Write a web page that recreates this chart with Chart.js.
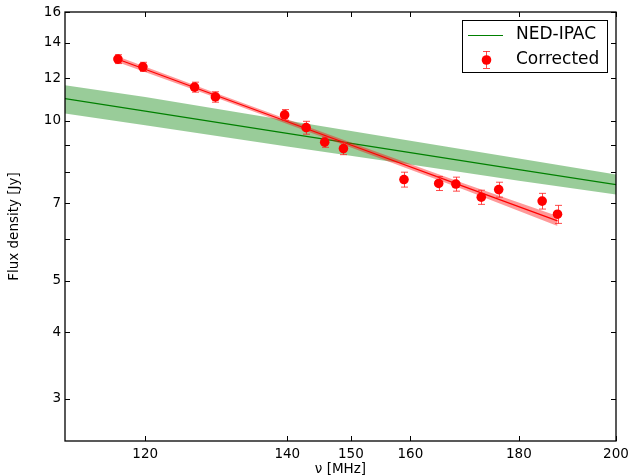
<!DOCTYPE html>
<html>
<head>
<meta charset="utf-8">
<script src="https://cdn.jsdelivr.net/npm/chart.js@4/dist/chart.umd.min.js"></script>
<style>
  html, body { margin: 0; padding: 0; background: #fff; }
  #wrap { width: 631px; height: 476px; }
</style>
</head>
<body>
<div id="wrap"><canvas id="c" width="631" height="476"></canvas></div>
<script>
// measured points (Corrected)
const freqs = [116.5, 119.7, 126.6, 129.5, 139.6, 142.9, 145.8, 148.8, 158.9, 165.0, 168.1, 172.8, 176.1, 184.6, 187.7];
const flux = [13.05, 12.62, 11.56, 11.08, 10.25, 9.70, 9.11, 8.86, 7.75, 7.62, 7.60, 7.18, 7.42, 7.06, 6.67];
const fluxErr = [0.25, 0.25, 0.25, 0.25, 0.24, 0.27, 0.20, 0.23, 0.25, 0.23, 0.23, 0.22, 0.24, 0.24, 0.26];

// fit to corrected points + its band
const fitFreqs = [116.5, 130, 150, 170, 187.7];
const fitFlux = [13.04, 11.10, 9.00, 7.49, 6.48];
const fitLow = [12.88, 10.99, 8.90, 7.39, 6.34];
const fitHigh = [13.20, 11.21, 9.10, 7.59, 6.62];

// NED-IPAC model + band
const nedFreqs = [110, 120, 140, 160, 180, 200];
const nedFlux = [11.0, 10.42, 9.46, 8.71, 8.09, 7.58];
const nedLow = [10.31, 9.80, 8.94, 8.27, 7.71, 7.26];
const nedHigh = [11.65, 11.08, 10.01, 9.17, 8.49, 7.92];

// axis ticks
const xTicks = [120, 140, 150, 160, 180, 200];
const yTicks = [3, 4, 5, 6, 7, 8, 9, 10, 12, 14, 16];
const yLabels = [3, 4, 5, 7, 10, 12, 14, 16];

const FONT = "'DejaVu Sans', 'Liberation Sans', sans-serif";
const pts = (xs, ys) => xs.map((x, i) => ({x: x, y: ys[i]}));

const errorBars = {
  id: 'errorBars',
  beforeDatasetDraw(chart, args) {
    if (args.index !== 6) return;
    const ctx = chart.ctx, xs = chart.scales.x, ys = chart.scales.y;
    ctx.save();
    ctx.strokeStyle = 'rgba(255,30,30,0.8)';
    ctx.lineWidth = 1;
    freqs.forEach((f, i) => {
      const px = Math.round(xs.getPixelForValue(f)) + 0.5;
      const top = ys.getPixelForValue(flux[i] + fluxErr[i]);
      const bot = ys.getPixelForValue(flux[i] - fluxErr[i]);
      ctx.beginPath();
      ctx.moveTo(px, top); ctx.lineTo(px, bot);
      ctx.moveTo(px - 3.5, top); ctx.lineTo(px + 3.5, top);
      ctx.moveTo(px - 3.5, bot); ctx.lineTo(px + 3.5, bot);
      ctx.stroke();
    });
    ctx.restore();
  }
};

const frame = {
  id: 'frame',
  afterDraw(chart) {
    const ctx = chart.ctx, a = chart.chartArea;
    const xs = chart.scales.x, ys = chart.scales.y;
    ctx.save();
    ctx.strokeStyle = '#000';
    ctx.lineWidth = 1;
    ctx.beginPath();
    xTicks.forEach(t => {
      const px = Math.round(xs.getPixelForValue(t)) + 0.5;
      ctx.moveTo(px, a.bottom); ctx.lineTo(px, a.bottom - 5);
      ctx.moveTo(px, a.top); ctx.lineTo(px, a.top + 5);
    });
    yTicks.forEach(t => {
      const py = Math.round(ys.getPixelForValue(t)) + 0.5;
      ctx.moveTo(a.left, py); ctx.lineTo(a.left + 5, py);
      ctx.moveTo(a.right, py); ctx.lineTo(a.right - 5, py);
    });
    ctx.stroke();
    ctx.lineWidth = 1.3;
    ctx.strokeRect(a.left, a.top, a.right - a.left, a.bottom - a.top);

    // legend
    const lx = 462, ly = 20, lw = 145, lh = 52;
    ctx.fillStyle = '#fff';
    ctx.fillRect(lx, ly, lw, lh);
    ctx.lineWidth = 1;
    ctx.strokeStyle = '#000';
    ctx.strokeRect(lx + 0.5, ly + 0.5, lw, lh);
    ctx.strokeStyle = 'rgb(0,128,0)';
    ctx.lineWidth = 1.2;
    ctx.beginPath();
    ctx.moveTo(468, 35.5); ctx.lineTo(503, 35.5);
    ctx.stroke();
    ctx.lineWidth = 1;
    ctx.strokeStyle = 'rgba(255,30,30,0.8)';
    ctx.beginPath();
    ctx.moveTo(486.5, 51); ctx.lineTo(486.5, 68);
    ctx.moveTo(483, 51.5); ctx.lineTo(490, 51.5);
    ctx.moveTo(483, 68.5); ctx.lineTo(490, 68.5);
    ctx.stroke();
    ctx.fillStyle = 'red';
    ctx.beginPath();
    ctx.arc(486.5, 60, 4.8, 0, Math.PI * 2);
    ctx.fill();
    ctx.fillStyle = '#000';
    ctx.font = '17px ' + FONT;
    ctx.textBaseline = 'middle';
    ctx.textAlign = 'left';
    ctx.fillText('NED-IPAC', 516, 35);
    ctx.fillText('Corrected', 516, 60);
    ctx.restore();
  }
};

new Chart(document.getElementById('c'), {
  type: 'scatter',
  data: {
    datasets: [
      { data: pts(nedFreqs, nedLow), showLine: true, borderWidth: 0, pointRadius: 0, fill: false, order: 6 },
      { data: pts(nedFreqs, nedHigh), showLine: true, borderWidth: 0, pointRadius: 0, fill: '-1',
        backgroundColor: 'rgba(0,128,0,0.4)', order: 5 },
      { data: pts(nedFreqs, nedFlux), showLine: true, borderColor: 'rgb(0,128,0)', borderWidth: 1.2, pointRadius: 0, order: 4 },
      { data: pts(fitFreqs, fitLow), showLine: true, borderWidth: 0, pointRadius: 0, fill: false, order: 3 },
      { data: pts(fitFreqs, fitHigh), showLine: true, borderWidth: 0, pointRadius: 0, fill: '-1',
        backgroundColor: 'rgba(255,0,0,0.4)', order: 2 },
      { data: pts(fitFreqs, fitFlux), showLine: true, borderColor: 'red', borderWidth: 1.2, pointRadius: 0, order: 1 },
      { data: pts(freqs, flux), pointRadius: 4.8, pointBackgroundColor: 'red', pointBorderWidth: 0, order: 0 }
    ]
  },
  options: {
    responsive: false,
    animation: false,
    events: [],
    layout: { padding: { left: 6, top: 12, right: 15, bottom: 0 } },
    plugins: { legend: { display: false }, tooltip: { enabled: false } },
    scales: {
      x: {
        type: 'logarithmic', min: 110, max: 200,
        afterBuildTicks: s => { s.ticks = xTicks.map(v => ({value: v})); },
        afterFit: s => { s.height = 35; s.paddingLeft = 0; s.paddingRight = 0; },
        grid: { display: false, drawTicks: false },
        border: { display: false },
        ticks: { color: '#000', padding: 5, maxRotation: 0, autoSkip: false,
          font: { family: FONT, size: 13.5 }, callback: v => String(v) },
        title: { display: true, text: 'ν [MHz]', color: '#000', padding: { top: 0, bottom: -2 }, font: { family: FONT, size: 13.5 } }
      },
      y: {
        type: 'logarithmic', min: 2.5, max: 16,
        afterBuildTicks: s => { s.ticks = yTicks.map(v => ({value: v})); },
        afterFit: s => { s.width = 59; s.paddingTop = 0; s.paddingBottom = 0; },
        grid: { display: false, drawTicks: false },
        border: { display: false },
        ticks: { color: '#000', padding: 4, autoSkip: false,
          font: { family: FONT, size: 13.5 }, callback: v => yLabels.includes(v) ? String(v) : '' },
        title: { display: true, text: 'Flux density [Jy]', color: '#000', padding: 0, font: { family: FONT, size: 13.5 } }
      }
    }
  },
  plugins: [errorBars, frame]
});
</script>
</body>
</html>
